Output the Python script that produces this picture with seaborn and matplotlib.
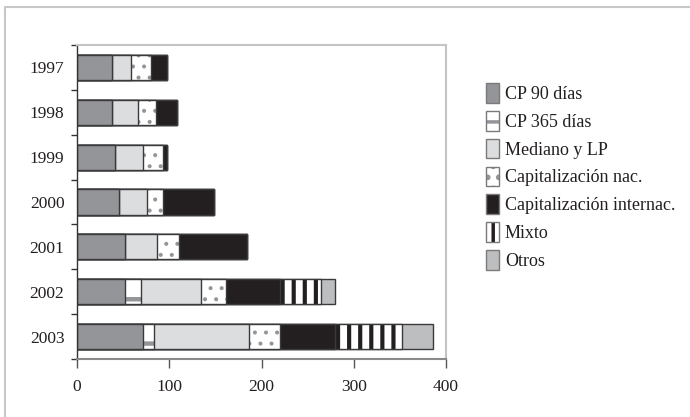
import numpy as np
import pandas as pd
import matplotlib
matplotlib.use("Agg")
import matplotlib.pyplot as plt
import matplotlib.colors as mcolors
from matplotlib.patches import Patch
from matplotlib.lines import Line2D
import seaborn as sns

# ---- data ----
years = ["1997", "1998", "1999", "2000", "2001", "2002", "2003"]
cp90 = [38, 38, 41, 45, 52, 52, 72]
cp365 = [0, 0, 0, 0, 0, 17, 11]
mediano = [21, 28, 31, 31, 35, 65, 103]
cap_nac = [21, 20, 21, 17, 24, 27, 34]
cap_int = [18, 22, 5, 56, 73, 59, 60]
mixto = [0, 0, 0, 0, 0, 45, 72]
otros = [0, 0, 0, 0, 0, 15, 34]
series_names = ["CP 90 días", "CP 365 días", "Mediano y LP", "Capitalización nac.",
                "Capitalización internac.", "Mixto", "Otros"]
x_ticks = [0, 100, 200, 300, 400]

DPI = 133
S = 100.0 / DPI  # point sizes scaled so pixel sizes stay as designed at 100 dpi

series = [cp90, cp365, mediano, cap_nac, cap_int, mixto, otros]
# styles: (facecolor, hatch, hatchcolor, hatch linewidth)
styles = [
    ("#939598", None, None, None),
    ("#ffffff", "-", "#939598", 3.2),
    ("#dcdddf", None, None, None),
    ("#ffffff", "..", "#939598", 1.3),
    ("#231f20", None, None, None),
    ("#ffffff", "||", "#231f20", 3.0),
    ("#bcbec0", None, None, None),
]

sns.set_theme(style="white")
plt.rcParams["font.family"] = ["Liberation Serif", "DejaVu Serif"]
plt.rcParams["hatch.linewidth"] = 2.5 * S

fig = plt.figure(figsize=(690 / DPI, 417 / DPI), dpi=DPI)
ax = fig.add_axes([77 / 690, 1 - 359 / 417, (446 - 77) / 690, (359 - 45) / 417])

edge = "#3a3a3c"
cum = np.cumsum(np.array(series, dtype=float), axis=0)


def style_patch(p, st):
    fc, hatch, hc, hlw = st
    p.set_facecolor(fc)
    if hatch:
        p.set_hatch(hatch)
        p._hatch_color = mcolors.to_rgba(hc)
        if hasattr(p, "set_hatch_linewidth"):
            p.set_hatch_linewidth(hlw * S)


for i in range(len(series) - 1, -1, -1):
    df = pd.DataFrame({"year": years, "value": cum[i]})
    n_before = len(ax.patches)
    sns.barplot(data=df, x="value", y="year", orient="h", color=styles[i][0],
                saturation=1, width=0.56, edgecolor=edge, linewidth=1.0 * S, ax=ax)
    for p in ax.patches[n_before:]:
        style_patch(p, styles[i])

ax.set_xlim(0, 400)
ax.set_ylim(len(years) - 0.5, -0.5)
ax.set_xlabel("")
ax.set_ylabel("")
ax.set_xticks(x_ticks)
ax.set_xticklabels([str(t) for t in x_ticks], fontsize=12.5 * S)
ax.set_yticks(range(len(years)))
ax.set_yticklabels(years, fontsize=12.5 * S)
ax.set_yticks(np.arange(-0.5, len(years), 1.0), minor=True)
ax.tick_params(axis="y", which="major", length=0, pad=9 * S)
ax.tick_params(axis="y", which="minor", length=4 * S, width=1 * S, color="#333333",
               direction="out", left=True)
ax.tick_params(axis="x", which="major", length=6.5 * S, width=1 * S, color="#555555",
               direction="out", bottom=True, pad=8 * S)
for lab in ax.get_xticklabels() + ax.get_yticklabels():
    lab.set_color("#231f20")

for s in ["top", "right"]:
    ax.spines[s].set_color("#c4c4c4")
    ax.spines[s].set_linewidth(1.5 * S)
ax.spines["left"].set_color("#333333")
ax.spines["left"].set_linewidth(1.0 * S)
ax.spines["bottom"].set_color("#8a8a8a")
ax.spines["bottom"].set_linewidth(1.5 * S)

# legend
handles = []
for st in styles:
    h = Patch(facecolor=st[0], edgecolor="#7a7a7a", linewidth=1.0 * S)
    style_patch(h, st)
    handles.append(h)
leg = fig.legend(handles, series_names, loc="upper left", bbox_to_anchor=(486 / 690, 1 - 83 / 417),
                 frameon=False, fontsize=13 * S, handlelength=0.7, handleheight=1.3,
                 handletextpad=0.35, labelspacing=0.44, borderpad=0, borderaxespad=0)
for t in leg.get_texts():
    t.set_color("#231f20")

# outer frame (left and top edges)
fig.add_artist(Line2D([5 / 690, 5 / 690], [0, 1 - 7 / 417], color="#c8c8c8", lw=1.5 * S,
                      transform=fig.transFigure))
fig.add_artist(Line2D([5 / 690, 1], [1 - 7 / 417, 1 - 7 / 417], color="#c8c8c8", lw=1.5 * S,
                      transform=fig.transFigure))

fig.savefig("out.png", dpi=DPI)
